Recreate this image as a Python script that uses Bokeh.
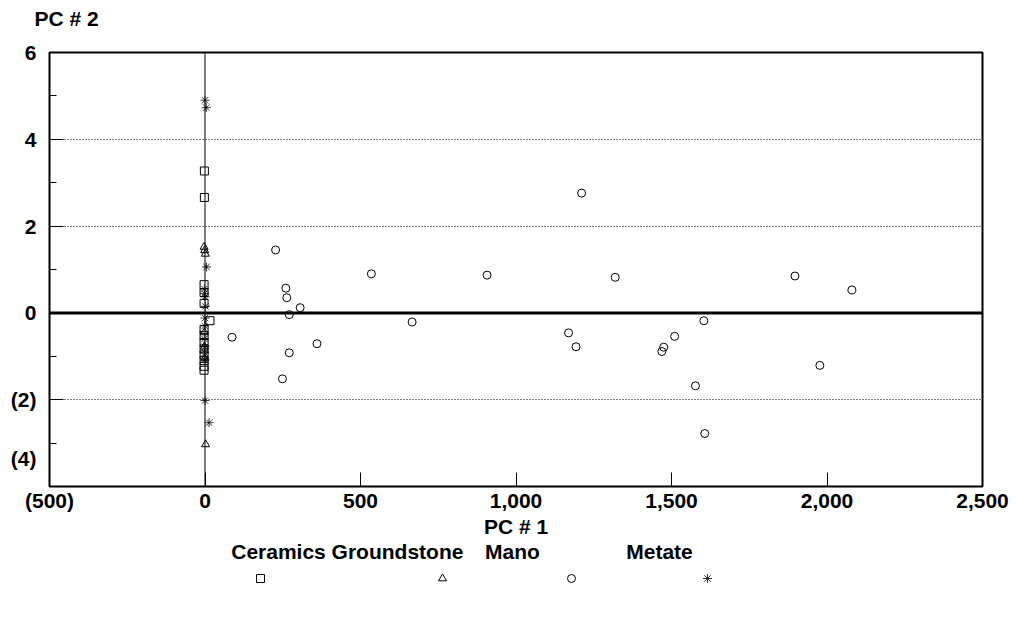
from bokeh.plotting import figure
from bokeh.layouts import column
from bokeh.models import Span, FixedTicker, Range1d
from bokeh.core.properties import value
from bokeh.embed import file_html
from bokeh.resources import INLINE

# ---- principal component scores by artifact class ----
ceramics_pc1 = [-2, -2, -3, -3, -3, 16, -3, -3, -3, -3, -3, -3, -3, -3]
ceramics_pc2 = [3.27, 2.66, 0.65, 0.47, 0.22, -0.18, -0.38, -0.52, -0.68, -0.83, -0.97, -1.10, -1.23, -1.32]

groundstone_pc1 = [-3, -1, 1, -2, -2, -1, 2]
groundstone_pc2 = [1.52, 1.44, 1.36, -0.45, -0.78, -1.05, -3.03]

mano_pc1 = [227, 260, 263, 306, 271, 87, 360, 271, 249, 535, 666, 907,
            1211, 1319, 1169, 1193, 1510, 1475, 1469, 1577, 1607, 1604,
            1897, 1977, 2080]
mano_pc2 = [1.45, 0.57, 0.35, 0.12, -0.04, -0.56, -0.71, -0.92, -1.52, 0.90, -0.21, 0.87,
            2.76, 0.82, -0.46, -0.78, -0.54, -0.79, -0.89, -1.68, -2.78, -0.18,
            0.85, -1.21, 0.53]

metate_pc1 = [0, 4, 5, -2, -1, 0, 1, 0, -1, -2, 0, -1, 0, 0, 13]
metate_pc2 = [4.90, 4.73, 1.06, 0.55, 0.45, 0.37, 0.15, -0.12, -0.30, -0.60, -0.78, -0.92, -1.08, -2.02, -2.53]

series_names = ["Ceramics", "Groundstone", "Mano", "Metate"]
series_markers = ["square", "triangle", "circle", "asterisk"]
marker_sizes = [8, 8, 8, 9]
marker_widths = [1, 1, 1, 0.8]

x_ticks = [-500, 0, 500, 1000, 1500, 2000, 2500]
x_tick_labels = ["(500)", "0", "500", "1,000", "1,500", "2,000", "2,500"]
y_ticks = [-4, -2, 0, 2, 4, 6]
y_tick_labels = ["(4)", "(2)", "0", "2", "4", "6"]
y_minor_ticks = [-3, -1, 1, 3, 5]
y_caption = "PC # 2"

FONT = "Liberation Sans"
FSIZE = "21px"
W = 1015
H_CAP, H_MAIN, H_LEG = 36, 504, 77
LEFT, RIGHT, TOP, BOTTOM = 49, 33, 16, 52


def strip_figure(height):
    """A blank band whose x pixels line up with the chart frame."""
    f = figure(width=W, height=height, output_backend="svg", toolbar_location=None,
               x_range=Range1d(LEFT, W - RIGHT), y_range=Range1d(height, 0),
               min_border_left=LEFT, min_border_right=RIGHT,
               min_border_top=0, min_border_bottom=0)
    f.axis.visible = False
    f.grid.grid_line_color = None
    f.outline_line_color = None
    f.background_fill_color = "white"
    f.border_fill_color = "white"
    return f


# ---- caption band for the vertical axis (its title carries the text) ----
cap = strip_figure(H_CAP)
cap.title.text = y_caption
cap.title.align = "left"
cap.title.offset = -15
cap.title.standoff = 8
cap.title.text_font = FONT
cap.title.text_font_style = "bold"
cap.title.text_font_size = FSIZE
cap.title.text_color = "black"

# ---- main scatter ----
p = figure(width=W, height=H_MAIN, output_backend="svg", toolbar_location=None,
           x_range=Range1d(-500, 2500), y_range=Range1d(-4, 6),
           min_border_left=LEFT, min_border_right=RIGHT, min_border_top=TOP,
           min_border_bottom=BOTTOM)
p.background_fill_color = "white"
p.border_fill_color = "white"
p.outline_line_color = "black"
p.outline_line_width = 2

for ax in (p.xaxis[0], p.yaxis[0]):
    ax.axis_line_color = None
    ax.major_tick_in = 14
    ax.major_tick_out = 0
    ax.major_tick_line_color = "black"
    ax.major_label_text_font = FONT
    ax.major_label_text_font_style = "bold"
    ax.major_label_text_font_size = FSIZE
    ax.major_label_text_color = "black"

p.xaxis.ticker = FixedTicker(ticks=x_ticks)
p.xaxis.major_label_overrides = dict(zip(x_ticks, x_tick_labels))
p.xaxis.minor_tick_line_color = None
p.xaxis.major_label_standoff = 2
p.xaxis.axis_label = "PC # 1"
p.xaxis.axis_label_text_font = FONT
p.xaxis.axis_label_text_font_style = "bold"
p.xaxis.axis_label_text_font_size = FSIZE
p.xaxis.axis_label_text_color = "black"
p.xaxis.axis_label_standoff = 0

# lowest y label sits a line higher so it stays clear of the x labels
y_overrides = dict(zip(y_ticks, y_tick_labels))
y_overrides[y_ticks[0]] = y_tick_labels[0] + "\n\n"
p.yaxis.ticker = FixedTicker(ticks=y_ticks, minor_ticks=y_minor_ticks)
p.yaxis.major_label_overrides = y_overrides
p.yaxis.minor_tick_in = 7
p.yaxis.minor_tick_out = 0
p.yaxis.minor_tick_line_color = "black"
p.yaxis.major_label_standoff = 13

p.xgrid.grid_line_color = None
p.ygrid.ticker = FixedTicker(ticks=[-2, 2, 4])
p.ygrid.grid_line_color = "black"
p.ygrid.grid_line_dash = "1 2"
p.ygrid.grid_line_width = 1

p.add_layout(Span(location=0, dimension="height", line_color="black", line_width=1))
p.add_layout(Span(location=0, dimension="width", line_color="black", line_width=3))

series = [
    (ceramics_pc1, ceramics_pc2),
    (groundstone_pc1, groundstone_pc2),
    (mano_pc1, mano_pc2),
    (metate_pc1, metate_pc2),
]
for (xs, ys), marker, size, lw in zip(series, series_markers, marker_sizes, marker_widths):
    p.scatter(xs, ys, marker=marker, size=size, fill_color=None,
              line_color="black", line_width=lw)

# ---- key band beneath the chart: names above, symbols below ----
leg = strip_figure(H_LEG)
name_x = [278, 397, 512, 659]
symbol_x = [260, 442, 571, 707]
name_y, symbol_y = 11, 38

leg.text(x=name_x, y=[name_y] * 4, text=series_names,
         text_font=value(FONT), text_font_style="bold", text_font_size=FSIZE,
         text_align="center", text_baseline="middle", text_color="black")
leg.scatter(x=symbol_x, y=[symbol_y] * 4, marker=series_markers, size=marker_sizes,
            fill_color=None, line_color="black", line_width=marker_widths)

layout = column(cap, p, leg, spacing=0)
open("out.html", "w").write(file_html(layout, INLINE))
